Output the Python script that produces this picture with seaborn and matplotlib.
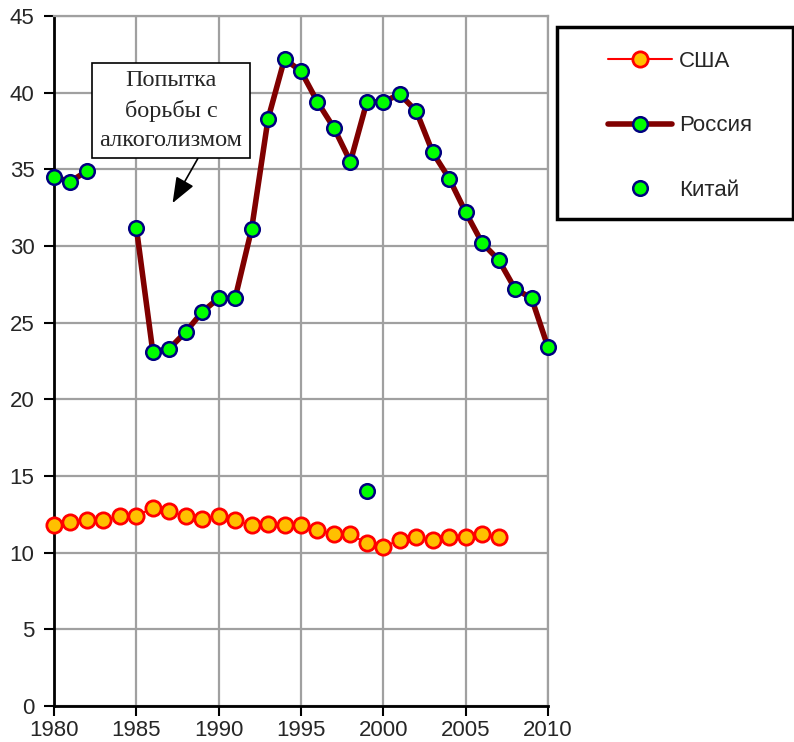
import pandas as pd
import seaborn as sns
import matplotlib.pyplot as plt
from matplotlib.lines import Line2D
from matplotlib.patches import Rectangle

# values
us_years = list(range(1980, 2008))
us_values = [11.8, 12.0, 12.1, 12.1, 12.4, 12.4, 12.9, 12.7, 12.4, 12.2,
             12.4, 12.1, 11.8, 11.9, 11.8, 11.8, 11.5, 11.2, 11.2, 10.6,
             10.4, 10.8, 11.0, 10.8, 11.0, 11.0, 11.2, 11.0]

ru_years_a = [1980, 1981, 1982]
ru_values_a = [34.5, 34.2, 34.9]
ru_years_b = list(range(1985, 2011))
ru_values_b = [31.2, 23.1, 23.3, 24.4, 25.7, 26.6, 26.6, 31.1, 38.3, 42.2,
               41.4, 39.4, 37.7, 35.5, 39.4, 39.4, 39.9, 38.8, 36.1, 34.4,
               32.2, 30.2, 29.1, 27.2, 26.6, 23.4]

cn_years = [1999]
cn_values = [14.0]

labels = ['США', 'Россия', 'Китай']
note = 'Попытка\nборьбы с\nалкоголизмом'

us = pd.DataFrame({'year': us_years, 'value': us_values})
ru = pd.DataFrame({
    'year': ru_years_a + ru_years_b,
    'value': ru_values_a + ru_values_b,
    'seg': [0] * len(ru_years_a) + [1] * len(ru_years_b),
})
cn = pd.DataFrame({'year': cn_years, 'value': cn_values})

sns.set_style('white')
plt.rcParams['font.family'] = ['Liberation Sans', 'DejaVu Sans']

W, H = 794, 742
fig = plt.figure(figsize=(W / 100, H / 100), dpi=100)
ax = fig.add_axes([54 / W, 1 - 706 / H, (548 - 54) / W, (706 - 16) / H])

# colours
us_line, us_fill = '#ff0000', '#ffc000'
ru_line, green, navy = '#800000', '#00ff00', '#000080'

sns.lineplot(data=us, x='year', y='value', color=us_line, lw=1.5,
             marker='o', markersize=11, markerfacecolor=us_fill,
             markeredgecolor=us_line, markeredgewidth=2,
             clip_on=False, zorder=3, ax=ax)

sns.lineplot(data=ru, x='year', y='value', units='seg', estimator=None,
             color=ru_line, lw=4, marker='o', markersize=10.5,
             markerfacecolor=green, markeredgecolor=navy, markeredgewidth=1.8,
             clip_on=False, zorder=4, ax=ax)

sns.scatterplot(data=cn, x='year', y='value', s=110, color=green,
                edgecolor=navy, linewidth=1.8, zorder=5, clip_on=False, ax=ax)

ax.set_xlim(1980, 2010)
ax.set_ylim(0, 45)
ax.set_xticks(range(1980, 2011, 5))
ax.set_yticks(range(0, 46, 5))
ax.set_xlabel('')
ax.set_ylabel('')
ax.grid(True, color='#a0a0a0', lw=1.6)
ax.set_axisbelow(True)
for side in ['top', 'right']:
    ax.spines[side].set_color('#a0a0a0')
    ax.spines[side].set_linewidth(1.6)
for side in ['left', 'bottom']:
    ax.spines[side].set_color('black')
    ax.spines[side].set_linewidth(2)
ax.tick_params(axis='both', direction='out', length=7, width=1.5,
               color='black', labelsize=16, left=True, bottom=True)
ax.tick_params(axis='y', pad=7)
ax.tick_params(axis='x', pad=3)

ax.annotate(note, xy=(1987.2, 32.8), xytext=(1987.1, 38.85),
            ha='center', va='center', fontsize=17.5,
            family=['Liberation Serif', 'DejaVu Serif'], linespacing=1.5,
            bbox=dict(boxstyle='square,pad=0.3', fc='white', ec='black', lw=1.2),
            arrowprops=dict(arrowstyle='-|>,head_length=0.9,head_width=0.35',
                            color='black', lw=1.2, shrinkA=0, shrinkB=0,
                            relpos=(0.72, 0)),
            zorder=6)

# legend box sits outside the axes, on the right
fig.add_artist(Rectangle((557 / W, 1 - 219 / H), (W - 557) / W - 0.001, 192 / H,
                         transform=fig.transFigure, fc='white', ec='black', lw=2.5))
handles = [
    Line2D([], [], color=us_line, lw=1.5, marker='o', markersize=11,
           markerfacecolor=us_fill, markeredgecolor=us_line, markeredgewidth=2),
    Line2D([], [], color=ru_line, lw=4, marker='o', markersize=10.5,
           markerfacecolor=green, markeredgecolor=navy, markeredgewidth=1.8),
    Line2D([], [], ls='none', marker='o', markersize=10.5,
           markerfacecolor=green, markeredgecolor=navy, markeredgewidth=1.8),
]
fig.legend(handles, labels, loc='upper left', bbox_to_anchor=(608 / W, 1 - 51 / H),
           frameon=False, fontsize=16, labelspacing=1.95, borderpad=0,
           handlelength=2.9, handletextpad=0.3, borderaxespad=0)

fig.savefig('out.png', dpi=100)
